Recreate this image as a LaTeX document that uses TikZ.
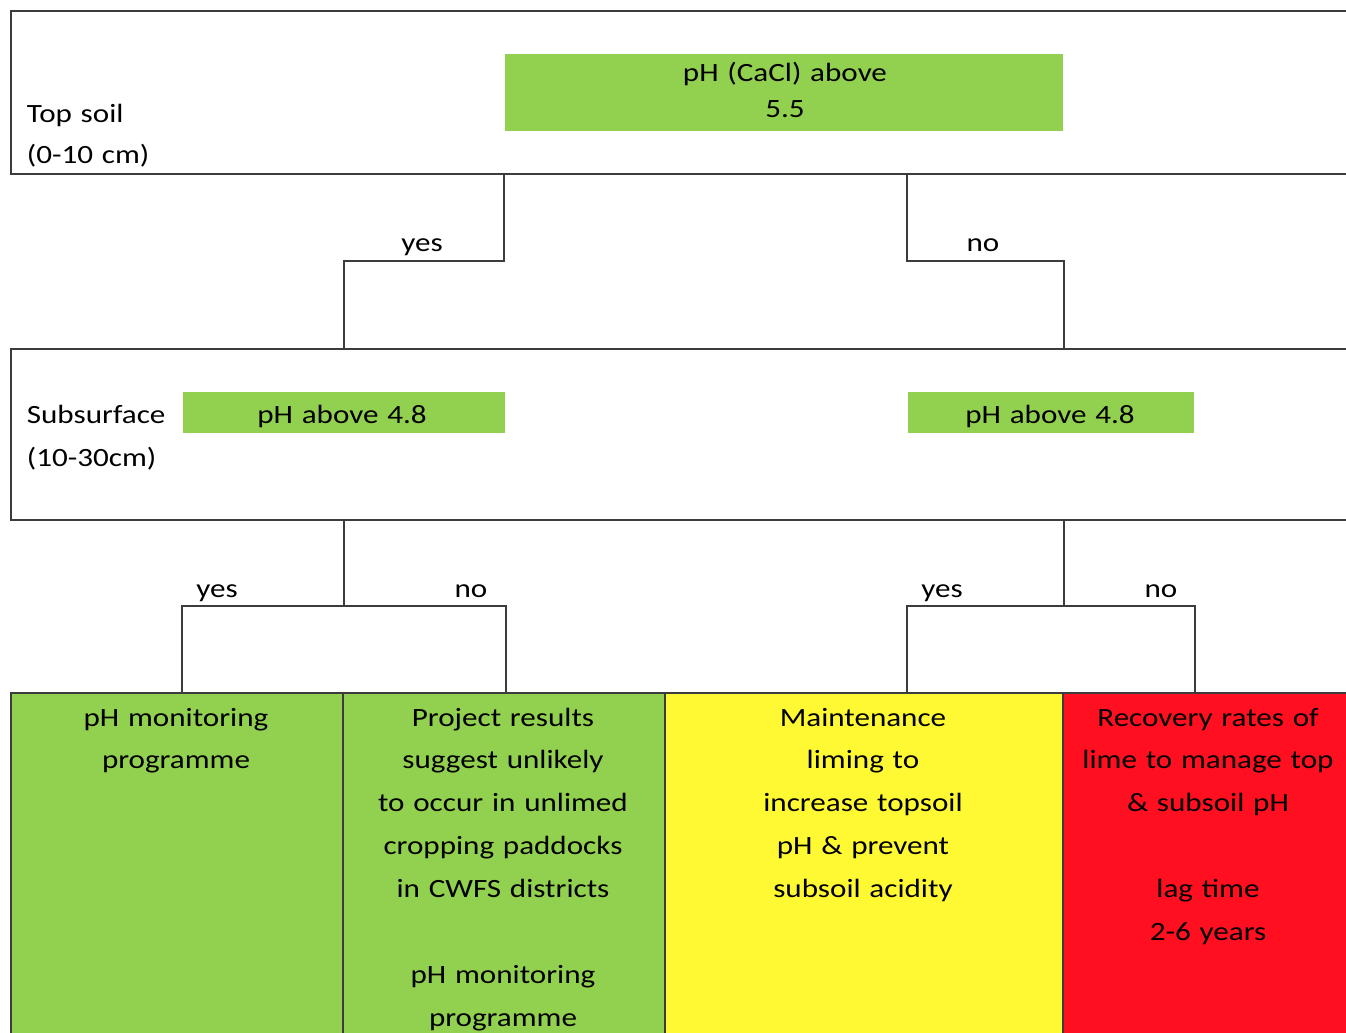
\documentclass[tikz,border=0pt]{standalone}
\usepackage{fontspec}
\setmainfont{Carlito}[FakeStretch=1.18]
\definecolor{xlgreen}{HTML}{92D050}
\definecolor{xlyellow}{HTML}{FFF933}
\definecolor{xlred}{HTML}{FF0F1F}
\definecolor{rule}{HTML}{3C3C3C}
\begin{document}
\begin{tikzpicture}[x=0.02cm,y=-0.02cm,line width=1pt,
  band/.style={draw=rule,anchor=north west,inner sep=0pt,minimum width=26.88cm},
  test/.style={fill=xlgreen,anchor=north west,inner sep=0pt,minimum height=0.82cm},
  result/.style={draw=rule,anchor=north west,inner sep=0pt,minimum height=8cm},
  txt/.style={font={\fontsize{15}{24.4}\selectfont},inner sep=0pt,anchor=base,
    text width=6cm,align=center},
  lbl/.style={font={\fontsize{15}{18}\selectfont},inner sep=0pt,anchor=base}]

\useasboundingbox (0,0) rectangle (1346,1032);
\clip (0,0) rectangle (1346,1032);

% layers
\node[band,minimum height=3.26cm] (top) at (10,10) {};
\node[band,minimum height=3.42cm] (sub) at (10,348) {};

% tests
\node[test,minimum width=11.16cm,minimum height=1.54cm] (q55) at (504,53) {};
\node[test,minimum width=6.44cm] (subL) at (182,391) {};
\node[test,minimum width=5.72cm] (subR) at (907,391) {};

% results
\node[result,fill=xlgreen,minimum width=6.64cm] (c1) at (10,692) {};
\node[result,fill=xlgreen,minimum width=6.44cm] (c2) at (342,692) {};
\node[result,fill=xlyellow,minimum width=7.96cm] (c3) at (664,692) {};
\node[result,fill=xlred,minimum width=5.84cm] (c4) at (1062,692) {};

\coordinate (forkA) at (0,261);
\coordinate (forkB) at (0,606);

% tree
\draw[rule] (q55.west |- top.south) |- (forkA -| subL) -- (subL |- sub.north);
\draw[rule] (subR.west |- top.south) |- (forkA -| q55.east) -- (q55.east |- sub.north);
\draw[rule] (subL |- sub.south) -- (subL |- forkB);
\draw[rule] (subL.west |- c1.north) |- (forkB -| subL.east) -- (subL.east |- c2.north);
\draw[rule] (q55.east |- sub.south) -- (q55.east |- forkB);
\draw[rule] (subR.west |- c3.north) |- (forkB -| subR.east) -- (subR.east |- c4.north);

\node[lbl] (yesA) at (422,251) {yes};
\node[lbl] (noA) at (983,251) {no};
\node[lbl] (yesB) at (217,597) {yes};
\node[lbl] (noB) at (471,597) {no};
\node[lbl] (yesC) at (942,597) {yes};
\node[lbl] (noC) at (1161,597) {no};

% texts
\node[txt,anchor=base west,align=left,font={\fontsize{15}{23.8}\selectfont}] (topname) at (26,122) {Top soil\\(0-10 cm)};
\node[txt,anchor=base west,align=left,font={\fontsize{15}{25}\selectfont}] (subname) at (26,423) {Subsurface\\(10-30cm)};
\node[txt,font={\fontsize{15}{21}\selectfont}] (q55txt) at (785,81) {pH (CaCl) above\\5.5};
\node[txt] (subLtxt) at (342,423) {pH above 4.8};
\node[txt] (subRtxt) at (1050,423) {pH above 4.8};

\node[txt] (c1txt) at (176,726) {pH monitoring\\programme};
\node[txt] (c2txt) at (503,726) {Project results\\suggest unlikely\\to occur in unlimed\\cropping paddocks\\in CWFS districts\\[24.4pt]pH monitoring\\programme};
\node[txt] (c3txt) at (863,726) {Maintenance\\liming to\\increase topsoil\\pH \& prevent\\subsoil acidity};
\node[txt] (c4txt) at (1208,726) {Recovery rates of\\lime to manage top\\\& subsoil pH\\[24.4pt]lag time\\2-6 years};
\end{tikzpicture}
\end{document}
